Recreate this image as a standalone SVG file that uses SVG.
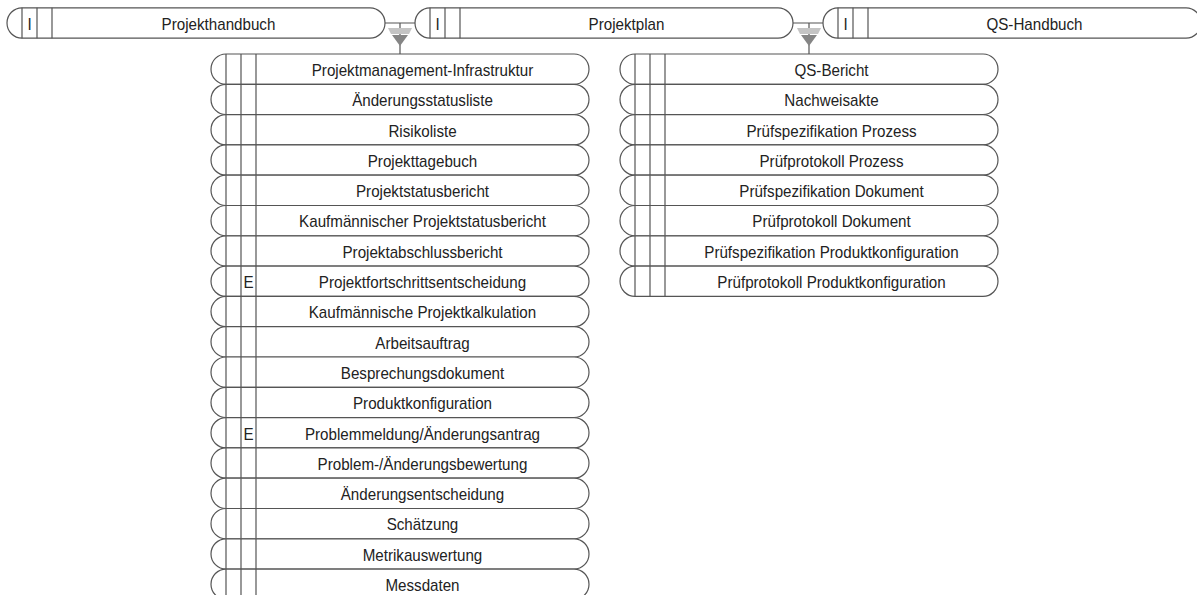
<svg xmlns="http://www.w3.org/2000/svg" width="1197" height="595" viewBox="0 0 1197 595">
<style>
.shape{fill:#fff;stroke:#555;stroke-width:1.2}
.ln{stroke:#555;stroke-width:1.2;fill:none}
.t{font-family:"Liberation Sans",Arial,sans-serif;font-size:16.4px;fill:#222;text-anchor:middle;transform-box:fill-box;transform-origin:center;transform:scaleX(0.925)}
.lt{fill:#c4c4c4}
.dk{fill:#858585}
</style>
<defs>
<path id="row" class="shape" d="M15,0 H363 A15 15.15 0 0 1 363,30.3 H15 A15 15.15 0 0 1 15,0 Z"/>
<g id="cols"><path class="ln" d="M15,0 V30.3 M30,0 V30.3 M45,0 V30.3"/></g>
<g id="filter"><polygon class="lt" points="-12,0 12,0 9,6 -9,6"/><polygon class="dk" points="-8,7 8,7 0,18"/></g>
</defs>
<g id="connectors">
<path class="ln" d="M385,23 H415 M400,23 V54"/>
<use href="#filter" x="400" y="28"/>
<path class="ln" d="M793,23 H823 M809,23 V54"/>
<use href="#filter" x="809" y="28"/>
</g>
<g id="n-projekthandbuch" transform="translate(7,7.85)"><use href="#row"/><use href="#cols"/><text class="t" x="22.5" y="22">I</text><text class="t" x="211.5" y="22">Projekthandbuch</text></g>
<g id="n-projektplan" transform="translate(415,7.85)"><use href="#row"/><use href="#cols"/><text class="t" x="22.5" y="22">I</text><text class="t" x="211.5" y="22">Projektplan</text></g>
<g id="n-qshandbuch" transform="translate(823,7.85)"><use href="#row"/><use href="#cols"/><text class="t" x="22.5" y="22">I</text><text class="t" x="211.5" y="22">QS-Handbuch</text></g>
<g id="n-c1-0" transform="translate(211,54)"><use href="#row"/><use href="#cols"/><text class="t" x="211.5" y="22">Projektmanagement-Infrastruktur</text></g>
<g id="n-c1-1" transform="translate(211,84.3)"><use href="#row"/><use href="#cols"/><text class="t" x="211.5" y="22">Änderungsstatusliste</text></g>
<g id="n-c1-2" transform="translate(211,114.6)"><use href="#row"/><use href="#cols"/><text class="t" x="211.5" y="22">Risikoliste</text></g>
<g id="n-c1-3" transform="translate(211,144.9)"><use href="#row"/><use href="#cols"/><text class="t" x="211.5" y="22">Projekttagebuch</text></g>
<g id="n-c1-4" transform="translate(211,175.2)"><use href="#row"/><use href="#cols"/><text class="t" x="211.5" y="22">Projektstatusbericht</text></g>
<g id="n-c1-5" transform="translate(211,205.5)"><use href="#row"/><use href="#cols"/><text class="t" x="211.5" y="22">Kaufmännischer Projektstatusbericht</text></g>
<g id="n-c1-6" transform="translate(211,235.8)"><use href="#row"/><use href="#cols"/><text class="t" x="211.5" y="22">Projektabschlussbericht</text></g>
<g id="n-c1-7" transform="translate(211,266.1)"><use href="#row"/><use href="#cols"/><text class="t" x="37.5" y="22">E</text><text class="t" x="211.5" y="22">Projektfortschrittsentscheidung</text></g>
<g id="n-c1-8" transform="translate(211,296.4)"><use href="#row"/><use href="#cols"/><text class="t" x="211.5" y="22">Kaufmännische Projektkalkulation</text></g>
<g id="n-c1-9" transform="translate(211,326.7)"><use href="#row"/><use href="#cols"/><text class="t" x="211.5" y="22">Arbeitsauftrag</text></g>
<g id="n-c1-10" transform="translate(211,357)"><use href="#row"/><use href="#cols"/><text class="t" x="211.5" y="22">Besprechungsdokument</text></g>
<g id="n-c1-11" transform="translate(211,387.3)"><use href="#row"/><use href="#cols"/><text class="t" x="211.5" y="22">Produktkonfiguration</text></g>
<g id="n-c1-12" transform="translate(211,417.6)"><use href="#row"/><use href="#cols"/><text class="t" x="37.5" y="22">E</text><text class="t" x="211.5" y="22">Problemmeldung/Änderungsantrag</text></g>
<g id="n-c1-13" transform="translate(211,447.9)"><use href="#row"/><use href="#cols"/><text class="t" x="211.5" y="22">Problem-/Änderungsbewertung</text></g>
<g id="n-c1-14" transform="translate(211,478.2)"><use href="#row"/><use href="#cols"/><text class="t" x="211.5" y="22">Änderungsentscheidung</text></g>
<g id="n-c1-15" transform="translate(211,508.5)"><use href="#row"/><use href="#cols"/><text class="t" x="211.5" y="22">Schätzung</text></g>
<g id="n-c1-16" transform="translate(211,538.8)"><use href="#row"/><use href="#cols"/><text class="t" x="211.5" y="22">Metrikauswertung</text></g>
<g id="n-c1-17" transform="translate(211,569.1)"><use href="#row"/><use href="#cols"/><text class="t" x="211.5" y="22">Messdaten</text></g>
<g id="n-c2-0" transform="translate(620,54)"><use href="#row"/><use href="#cols"/><text class="t" x="211.5" y="22">QS-Bericht</text></g>
<g id="n-c2-1" transform="translate(620,84.3)"><use href="#row"/><use href="#cols"/><text class="t" x="211.5" y="22">Nachweisakte</text></g>
<g id="n-c2-2" transform="translate(620,114.6)"><use href="#row"/><use href="#cols"/><text class="t" x="211.5" y="22">Prüfspezifikation Prozess</text></g>
<g id="n-c2-3" transform="translate(620,144.9)"><use href="#row"/><use href="#cols"/><text class="t" x="211.5" y="22">Prüfprotokoll Prozess</text></g>
<g id="n-c2-4" transform="translate(620,175.2)"><use href="#row"/><use href="#cols"/><text class="t" x="211.5" y="22">Prüfspezifikation Dokument</text></g>
<g id="n-c2-5" transform="translate(620,205.5)"><use href="#row"/><use href="#cols"/><text class="t" x="211.5" y="22">Prüfprotokoll Dokument</text></g>
<g id="n-c2-6" transform="translate(620,235.8)"><use href="#row"/><use href="#cols"/><text class="t" x="211.5" y="22">Prüfspezifikation Produktkonfiguration</text></g>
<g id="n-c2-7" transform="translate(620,266.1)"><use href="#row"/><use href="#cols"/><text class="t" x="211.5" y="22">Prüfprotokoll Produktkonfiguration</text></g>
</svg>
